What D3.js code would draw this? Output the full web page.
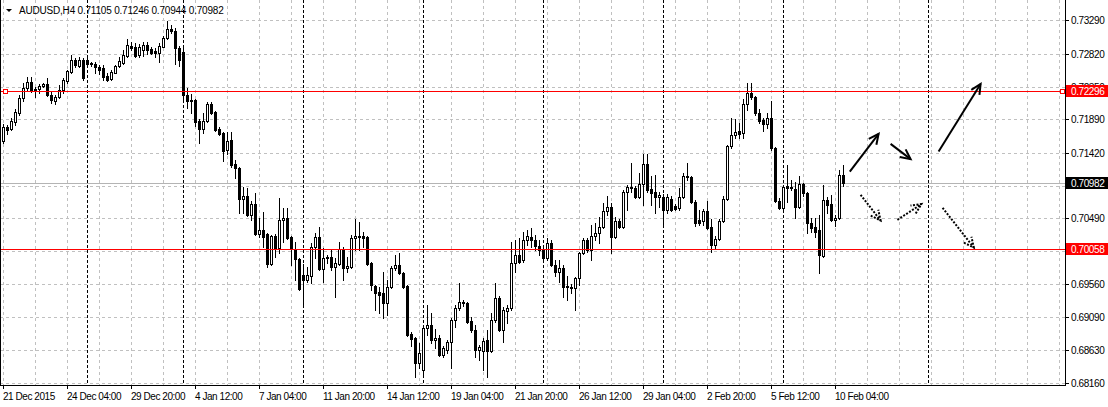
<!DOCTYPE html>
<html>
<head>
<meta charset="utf-8">
<script src="https://d3js.org/d3.v7.min.js"></script>
<style>
  body { margin: 0; background: #fff; }
  svg { display: block; font-family: "Liberation Sans", Arial, sans-serif; }
  line.crisp, rect.crisp { shape-rendering: crispEdges; }
</style>
</head>
<body>
<script>
// AUDUSD H4, 21 Dec 2015 .. 10 Feb 2016
var symbol = "AUDUSD,H4";

var open = [0.71584,0.71782,0.71754,0.71853,0.71980,0.72192,0.72333,0.72418,0.72305,0.72319,
0.72362,0.72390,0.72234,0.72150,0.72206,0.72305,0.72432,0.72559,0.72729,0.72644,
0.72729,0.72729,0.72672,0.72672,0.72630,0.72616,0.72503,0.72460,0.72545,0.72644,
0.72686,0.72786,0.72927,0.72913,0.72799,0.72870,0.72941,0.72885,0.72856,0.72828,
0.72913,0.73040,0.73167,0.73139,0.72899,0.72842,0.72234,0.72150,0.72164,0.71867,
0.71754,0.71867,0.72107,0.71994,0.71754,0.71698,0.71457,0.71598,0.71259,0.71203,
0.70765,0.70807,0.70539,0.70694,0.70270,0.70327,0.70270,0.69846,0.70242,0.70072,
0.70468,0.70496,0.70228,0.70058,0.69917,0.69691,0.69620,0.69676,0.70086,0.70228,
0.69776,0.69945,0.69945,0.69804,0.69846,0.70058,0.69790,0.69804,0.70214,0.70242,
0.70242,0.70228,0.69860,0.69535,0.69451,0.69436,0.69295,0.69521,0.69790,0.69832,
0.69719,0.69535,0.68857,0.68800,0.68447,0.68348,0.68942,0.68984,0.68772,0.68800,
0.68560,0.68631,0.68744,0.69055,0.69224,0.69309,0.69295,0.69041,0.68913,0.68631,
0.68617,0.68772,0.68617,0.69055,0.69366,0.68913,0.69182,0.69224,0.69860,0.69973,
0.69903,0.70185,0.70228,0.70185,0.70100,0.70044,0.69931,0.70143,0.69832,0.69733,
0.69790,0.69535,0.69521,0.69507,0.69648,0.70002,0.70185,0.70044,0.70242,0.70284,
0.70369,0.70595,0.70652,0.70228,0.70454,0.70369,0.70864,0.70920,0.70920,0.70793,
0.70977,0.71259,0.70906,0.70864,0.70793,0.70793,0.70609,0.70765,0.70666,0.70638,
0.70793,0.71076,0.71076,0.70722,0.70468,0.70454,0.70595,0.70369,0.70115,0.70199,
0.70454,0.70765,0.71514,0.71669,0.71726,0.71698,0.72107,0.72263,0.72206,0.71980,
0.71881,0.71825,0.71910,0.71486,0.70737,0.70638,0.70949,0.70934,0.70906,0.70652,
0.70977,0.70850,0.70426,0.70369,0.70327,0.69959,0.70751,0.70694,0.70468,0.70496,
0.71105];

var high = [0.71825,0.71811,0.71910,0.72037,0.72234,0.72404,0.72489,0.72489,0.72347,0.72390,
0.72404,0.72475,0.72291,0.72234,0.72376,0.72475,0.72588,0.72799,0.72757,0.72771,
0.72757,0.72771,0.72701,0.72701,0.72658,0.72658,0.72545,0.72588,0.72658,0.72771,
0.72870,0.73026,0.72983,0.72969,0.72955,0.72983,0.72983,0.72913,0.72899,0.72969,
0.73068,0.73280,0.73224,0.73181,0.72927,0.72941,0.72333,0.72248,0.72178,0.71895,
0.71980,0.72136,0.72136,0.72008,0.71782,0.71712,0.71712,0.71712,0.71316,0.71217,
0.70934,0.70920,0.70737,0.70850,0.70496,0.70581,0.70284,0.70256,0.70270,0.70779,
0.70638,0.70638,0.70242,0.70157,0.69931,0.69846,0.69804,0.70143,0.70284,0.70369,
0.70072,0.69973,0.70044,0.69931,0.70157,0.70086,0.69945,0.70256,0.70482,0.70440,
0.70298,0.70242,0.69875,0.69549,0.69521,0.69733,0.69620,0.69818,0.69973,0.70002,
0.69733,0.69549,0.68885,0.68815,0.68730,0.68956,0.69267,0.69154,0.68928,0.68843,
0.68687,0.68772,0.69083,0.69267,0.69578,0.69337,0.69309,0.69097,0.68984,0.68702,
0.68800,0.68913,0.69154,0.69578,0.69394,0.69239,0.69267,0.70157,0.70185,0.70214,
0.70298,0.70327,0.70355,0.70256,0.70185,0.70100,0.70214,0.70185,0.69903,0.69903,
0.69832,0.69677,0.69564,0.69662,0.70016,0.70214,0.70214,0.70397,0.70426,0.70510,
0.70708,0.70807,0.70708,0.70510,0.70482,0.70892,0.70963,0.71274,0.70949,0.71132,
0.71401,0.71401,0.71090,0.71104,0.70864,0.70835,0.70835,0.70807,0.70694,0.70920,
0.71132,0.71274,0.71090,0.70751,0.70609,0.70624,0.70737,0.70482,0.70242,0.70482,
0.70807,0.71528,0.71910,0.71895,0.71839,0.72178,0.72404,0.72404,0.72220,0.72037,
0.71910,0.71980,0.72150,0.71500,0.70779,0.70949,0.71245,0.71033,0.71005,0.71090,
0.70991,0.70864,0.70496,0.70496,0.70539,0.70963,0.70793,0.70821,0.70539,0.71175,
0.71246];

var low = [0.71556,0.71683,0.71740,0.71811,0.71952,0.72150,0.72291,0.72277,0.72206,0.72263,
0.72347,0.72220,0.72121,0.72107,0.72192,0.72263,0.72404,0.72545,0.72630,0.72630,
0.72446,0.72644,0.72644,0.72545,0.72531,0.72446,0.72432,0.72446,0.72545,0.72630,
0.72672,0.72771,0.72870,0.72771,0.72771,0.72786,0.72814,0.72814,0.72771,0.72701,
0.72913,0.73026,0.73111,0.72672,0.72644,0.72164,0.72051,0.71980,0.71796,0.71556,
0.71697,0.71853,0.71966,0.71726,0.71669,0.71302,0.71401,0.71217,0.71061,0.70567,
0.70567,0.70524,0.70468,0.70256,0.70228,0.70086,0.69804,0.69832,0.69945,0.70002,
0.70157,0.70199,0.69832,0.69620,0.69479,0.69267,0.69592,0.69578,0.69931,0.69761,
0.69592,0.69860,0.69761,0.69380,0.69832,0.69620,0.69733,0.69790,0.70044,0.70044,
0.70086,0.69832,0.69479,0.69196,0.69154,0.69083,0.69125,0.69507,0.69761,0.69705,
0.69507,0.68829,0.68687,0.68249,0.68376,0.68249,0.68843,0.68730,0.68659,0.68546,
0.68532,0.68588,0.68376,0.68956,0.69196,0.69253,0.69012,0.68885,0.68532,0.68490,
0.68348,0.68249,0.68603,0.69027,0.68899,0.68744,0.69012,0.69196,0.69733,0.69860,
0.69875,0.70115,0.70086,0.70044,0.69973,0.69875,0.69903,0.69818,0.69677,0.69592,
0.69380,0.69337,0.69436,0.69196,0.69549,0.69988,0.70016,0.69903,0.70185,0.70143,
0.70355,0.70539,0.70002,0.70214,0.70355,0.70355,0.70609,0.70864,0.70779,0.70779,
0.70680,0.70864,0.70680,0.70567,0.70652,0.70369,0.70567,0.70595,0.70609,0.70609,
0.70779,0.71033,0.70708,0.70383,0.70398,0.70398,0.70341,0.70016,0.70058,0.70185,
0.70440,0.70751,0.71486,0.71627,0.71627,0.71627,0.72023,0.72178,0.71952,0.71839,
0.71726,0.71768,0.71457,0.70722,0.70624,0.70609,0.70722,0.70892,0.70496,0.70638,
0.70807,0.70284,0.70298,0.70228,0.69719,0.69945,0.70567,0.70454,0.70383,0.70482,
0.70944];

var close = [0.71782,0.71740,0.71867,0.71994,0.72192,0.72333,0.72418,0.72305,0.72319,0.72362,
0.72390,0.72234,0.72164,0.72206,0.72305,0.72446,0.72574,0.72729,0.72658,0.72729,
0.72475,0.72672,0.72686,0.72630,0.72588,0.72489,0.72446,0.72559,0.72644,0.72715,
0.72799,0.72941,0.72899,0.72786,0.72913,0.72941,0.72870,0.72828,0.72828,0.72927,
0.73040,0.73167,0.73139,0.72899,0.72729,0.72234,0.72150,0.72164,0.71853,0.71754,
0.71867,0.72107,0.71980,0.71740,0.71683,0.71443,0.71584,0.71245,0.71203,0.70765,
0.70807,0.70539,0.70694,0.70270,0.70327,0.70228,0.69846,0.70242,0.70072,0.70468,
0.70496,0.70214,0.70058,0.69917,0.69493,0.69620,0.69691,0.70086,0.70228,0.69776,
0.69931,0.69931,0.69804,0.69860,0.70058,0.69790,0.69818,0.70214,0.70242,0.70228,
0.70214,0.69846,0.69549,0.69436,0.69408,0.69295,0.69521,0.69790,0.69832,0.69719,
0.69521,0.68843,0.68786,0.68447,0.68588,0.68942,0.68984,0.68772,0.68800,0.68560,
0.68659,0.68744,0.69055,0.69224,0.69309,0.69295,0.69026,0.68913,0.68631,0.68673,
0.68758,0.68617,0.69055,0.69366,0.68913,0.69196,0.69224,0.69860,0.69973,0.69875,
0.70185,0.70242,0.70185,0.70100,0.70044,0.69931,0.70143,0.69832,0.69733,0.69790,
0.69521,0.69521,0.69507,0.69648,0.70002,0.70185,0.70044,0.70242,0.70284,0.70369,
0.70595,0.70652,0.70228,0.70454,0.70369,0.70864,0.70934,0.70934,0.70793,0.70977,
0.71259,0.70892,0.70850,0.70793,0.70821,0.70609,0.70793,0.70609,0.70623,0.70793,
0.71090,0.71090,0.70722,0.70426,0.70426,0.70595,0.70355,0.70115,0.70199,0.70454,
0.70765,0.71514,0.71669,0.71712,0.71683,0.72107,0.72263,0.72206,0.71980,0.71867,
0.71825,0.71910,0.71486,0.70737,0.70638,0.70934,0.70920,0.70920,0.70652,0.70977,
0.70850,0.70426,0.70355,0.70298,0.69973,0.70751,0.70680,0.70468,0.70496,0.71104,
0.70982];

// bottom axis: label text and the bar it sits on
var timeLabels = ["21 Dec 2015","24 Dec 04:00","29 Dec 20:00","4 Jan 12:00","7 Jan 04:00",
  "11 Jan 20:00","14 Jan 12:00","19 Jan 04:00","21 Jan 20:00","26 Jan 12:00",
  "29 Jan 04:00","2 Feb 20:00","5 Feb 12:00","10 Feb 04:00"];
var timeLabelBars = [0,16,32,48,64,80,96,112,128,144,160,176,192,208];

var priceTicks = ["0.73290","0.72820","0.72350","0.71890","0.71420","0.70950",
  "0.70490","0.70020","0.69560","0.69090","0.68630","0.68160"];

// first bar of every week (period separators)
var weekStarts = [21,45,75,105,135,165,195];

// objects drawn on the chart
var redLevels = [0.72296, 0.70058];
var lastPrice = 0.70982;
var userVLine = 231.2;
// [bar from, price from, bar to, price to, dotted]
var arrows = [
  [211.7,0.71151,218.9,0.71683,false],
  [221.9,0.71542,226.9,0.71326,false],
  [214.4,0.70821,219.4,0.70458,true],
  [223.6,0.70468,229.6,0.70690,true],
  [234.9,0.70638,242.7,0.70076,true],
  [233.9,0.71433,244.4,0.72390,false]
];

var W = 1108, H = 407, plotR = 1065, plotB = 385;

var x = d3.scaleLinear().domain([0, 265]).range([3, 1063]);
var y = d3.scaleLinear().domain([0.68160, 0.73290]).range([383, 20.3]);
var cx = function(i) { return Math.round(x(i)); };
var cy = function(p) { return Math.round(y(p)); };

var svg = d3.select("body").append("svg")
  .attr("width", W).attr("height", H);

svg.append("rect").attr("width", W).attr("height", H).attr("fill", "#fff");

var grid = svg.append("g").attr("stroke", "#c0c0c0").attr("stroke-dasharray", "3,3");

// vertical grid every 8 bars
d3.range(0, 265, 8).forEach(function(i) {
  grid.append("line").attr("class", "crisp")
    .attr("x1", cx(i) + 0.5).attr("x2", cx(i) + 0.5)
    .attr("y1", 0).attr("y2", plotB);
});
// horizontal grid at price ticks
priceTicks.forEach(function(t) {
  grid.append("line").attr("class", "crisp")
    .attr("x1", 0).attr("x2", plotR)
    .attr("y1", cy(+t) + 0.5).attr("y2", cy(+t) + 0.5);
});

// week separators + the drawn vertical line
svg.append("g").selectAll("line")
  .data(weekStarts.concat([userVLine]))
  .enter().append("line")
    .attr("class", "crisp")
    .attr("x1", function(d) { return cx(d) + 0.5; })
    .attr("x2", function(d) { return cx(d) + 0.5; })
    .attr("y1", 0).attr("y2", plotB)
    .attr("stroke", "#000")
    .attr("stroke-dasharray", "3,2");

// current price line
svg.append("line").attr("class", "crisp")
  .attr("x1", 0).attr("x2", plotR)
  .attr("y1", cy(lastPrice) + 0.5).attr("y2", cy(lastPrice) + 0.5)
  .attr("stroke", "#b4b4b4");

// candles
var bars = d3.range(open.length);
var candles = svg.append("g");

candles.selectAll("line.wick")
  .data(bars).enter().append("line")
    .attr("class", "wick crisp")
    .attr("x1", function(i) { return cx(i) + 0.5; })
    .attr("x2", function(i) { return cx(i) + 0.5; })
    .attr("y1", function(i) { return cy(high[i]); })
    .attr("y2", function(i) { return cy(low[i]) + 1; })
    .attr("stroke", "#000");

candles.selectAll("rect.body")
  .data(bars).enter().append("rect")
    .attr("class", "body crisp")
    .each(function(i) {
      var top = cy(Math.max(open[i], close[i]));
      var bot = cy(Math.min(open[i], close[i]));
      var r = d3.select(this);
      if (close[i] > open[i]) {
        r.attr("x", cx(i) - 0.5).attr("y", top + 0.5)
         .attr("width", 2).attr("height", Math.max(bot - top, 1))
         .attr("fill", "#fff").attr("stroke", "#000");
      } else {
        r.attr("x", cx(i) - 1).attr("y", top)
         .attr("width", 3).attr("height", bot - top + 1)
         .attr("fill", "#000");
      }
    });

// red horizontal levels
redLevels.forEach(function(p) {
  svg.append("line").attr("class", "crisp")
    .attr("x1", 0).attr("x2", plotR)
    .attr("y1", cy(p) + 0.5).attr("y2", cy(p) + 0.5)
    .attr("stroke", "#ff0000");
});
// selection handles of the upper level
[3, 1060].forEach(function(hx) {
  svg.append("rect").attr("class", "crisp")
    .attr("x", hx + 0.5).attr("y", cy(redLevels[0]) - 2 + 0.5)
    .attr("width", 4).attr("height", 4)
    .attr("fill", "#fff").attr("stroke", "#ff0000");
});

// arrows
var arrowG = svg.append("g").attr("stroke", "#000").attr("stroke-width", 2)
  .attr("fill", "none");
arrows.forEach(function(a) {
  var x1 = x(a[0]), y1 = y(a[1]), x2 = x(a[2]), y2 = y(a[3]);
  var ang = Math.atan2(y2 - y1, x2 - x1), len = 11, spread = 0.45;
  var g = arrowG.append("g");
  if (a[4]) g.attr("stroke-dasharray", "2,1.5");
  g.append("line").attr("x1", x1).attr("y1", y1).attr("x2", x2).attr("y2", y2);
  g.append("path")
    .attr("d", "M" + (x2 - len * Math.cos(ang - spread)) + "," + (y2 - len * Math.sin(ang - spread)) +
      "L" + x2 + "," + y2 +
      "L" + (x2 - len * Math.cos(ang + spread)) + "," + (y2 - len * Math.sin(ang + spread)));
});

// frame
var frame = svg.append("g").attr("stroke", "#000");
frame.append("line").attr("class", "crisp").attr("x1", 0.5).attr("x2", 0.5).attr("y1", 0).attr("y2", plotB + 1);
frame.append("line").attr("class", "crisp").attr("x1", plotR + 0.5).attr("x2", plotR + 0.5).attr("y1", 0).attr("y2", plotB + 1);
frame.append("line").attr("class", "crisp").attr("x1", 0).attr("x2", plotR + 1).attr("y1", plotB + 0.5).attr("y2", plotB + 0.5);

// price axis (a label sitting right under the last-price box is not drawn)
var pAxis = svg.append("g").attr("font-size", 10).attr("letter-spacing", "-0.4");
priceTicks.forEach(function(t) {
  var py = cy(+t);
  pAxis.append("line").attr("class", "crisp").attr("x1", plotR).attr("x2", plotR + 4)
    .attr("y1", py + 0.5).attr("y2", py + 0.5).attr("stroke", "#000");
  if (Math.abs(py - cy(lastPrice)) < 4) return;
  pAxis.append("text").attr("x", 1071).attr("y", py + 4).attr("fill", "#000").text(t);
});

// price boxes on the axis
function priceBox(p, color) {
  var py = cy(p);
  svg.append("rect").attr("class", "crisp").attr("x", 1066).attr("y", py - 6)
    .attr("width", 42).attr("height", 12).attr("fill", color);
  svg.append("text").attr("x", 1071).attr("y", py + 4)
    .attr("font-size", 10).attr("letter-spacing", "-0.4")
    .attr("fill", "#fff").text(p.toFixed(5));
}
priceBox(redLevels[0], "#ff0000");
priceBox(lastPrice, "#000");
priceBox(redLevels[1], "#ff0000");

// time axis
var tAxis = svg.append("g").attr("font-size", 10).attr("letter-spacing", "-0.45");
timeLabels.forEach(function(t, k) {
  var tx = cx(timeLabelBars[k]);
  tAxis.append("line").attr("class", "crisp").attr("x1", tx + 0.5).attr("x2", tx + 0.5)
    .attr("y1", plotB).attr("y2", plotB + 4).attr("stroke", "#000");
  tAxis.append("text").attr("x", tx).attr("y", 400).attr("fill", "#000").text(t);
});

// title
svg.append("path").attr("d", "M6,9L12,9L9,12Z").attr("fill", "#000");
var last = open.length - 1;
svg.append("text")
  .attr("x", 19).attr("y", 14)
  .attr("font-size", 10).attr("letter-spacing", "-0.2")
  .attr("fill", "#000")
  .text(symbol + "  " + [open[last], high[last], low[last], close[last]]
    .map(function(v) { return v.toFixed(5); }).join(" "));
</script>
</body>
</html>
